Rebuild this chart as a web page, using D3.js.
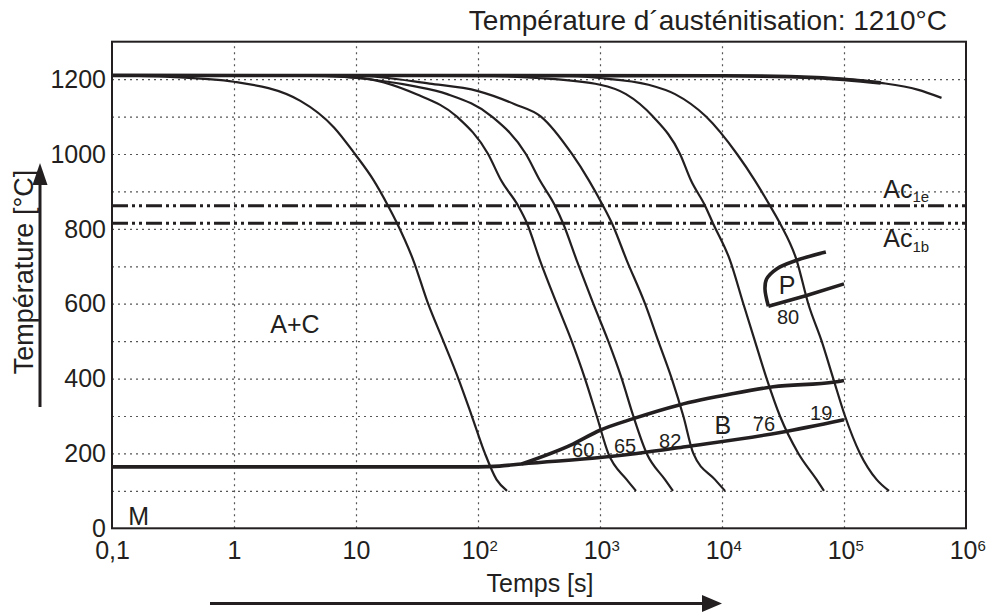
<!DOCTYPE html>
<html lang="fr">
<head>
<meta charset="UTF-8">
<title>Température d´austénitisation: 1210°C</title>
<script src="https://d3js.org/d3.v7.min.js"></script>
<style>
  body { margin: 0; background: #fff; }
  svg { display: block; font-family: "Liberation Sans", Arial, sans-serif; }
  .frame { fill: none; stroke: #231f20; stroke-width: 2; }
  .grid line { stroke: #555; stroke-width: 1.2; stroke-dasharray: 2 4; }
  .grid path { display: none; }
  .cool { fill: none; stroke: #231f20; stroke-width: 2.2; }
  .thick { fill: none; stroke: #231f20; stroke-width: 3.6; }
  .ac { stroke: #231f20; stroke-width: 3; stroke-dasharray: 16 4 3 4 3 4; }
  .axis path, .axis line { display: none; }
  .axis text { font-size: 25px; fill: #231f20; }
  .lbl { fill: #231f20; }
</style>
</head>
<body>
<svg id="chart" width="988" height="612"></svg>
<script>
// cooling curves: [time s, temperature °C]
const curve1 = [[0.1,1210],[0.3,1206],[1,1193],[3.5,1142],[6.6,1071],[9.8,1000],[14,929],[18.3,862],[21.7,815],[29.5,716],[39,600],[52,500],[69,400],[89,300],[114,200],[142,130],[173,100]];
const curve2 = [[0.1,1210],[3,1209],[10,1204],[31,1160],[67,1100],[121,1000],[155,929],[213,862],[252,815],[322,716],[442,600],[586,500],[753,400],[940,300],[1169,200],[1656,130],[1972,100]];
const curve3 = [[0.1,1210],[5,1209],[10,1203],[29,1182],[56,1160],[130,1100],[247,1000],[322,929],[428,862],[498,815],[644,716],[881,600],[1169,500],[1507,400],[1875,300],[2415,200],[3412,130],[3963,100]];
const curve4 = [[0.1,1210],[10,1209],[40,1188],[100,1168],[200,1133],[328,1100],[589,1000],[813,929],[1059,862],[1253,815],[1656,716],[2339,600],[3006,500],[3873,400],[4819,300],[5821,200],[8770,130],[10590,100]];
const curve5 = [[0.1,1210],[100,1209],[300,1203],[1000,1185],[1633,1160],[2716,1100],[4529,1000],[5572,929],[7261,862],[8433,815],[11640,716],[14960,600],[18620,500],[23230,400],[29850,300],[42270,200],[59700,130],[68550,100]];
const curve6 = [[0.1,1210],[500,1209],[982,1203],[2500,1185],[4121,1160],[7396,1100],[13270,1000],[18620,929],[24720,862],[29850,815],[40930,716],[50930,600],[65610,500],[81660,400],[101900,300],[135200,200],[185400,130],[233900,100]];
const curve7 = [[0.1,1210],[10000,1209],[60000,1204],[200000,1190],[400000,1172],[630000,1150]];
const coolingCurves = [curve1, curve2, curve3, curve4, curve5, curve6, curve7];

// Ms + lower bainite boundary, upper bainite boundary
const msLower = [[0.1,164],[100,164],[150,166],[228,172],[1000,189],[2000,200],[5000,218],[30000,256],[100000,290]];
const bainiteUpper = [[228,172],[600,225],[1000,262],[1875,293],[4390,329],[12400,360],[26300,378],[84300,391],[100000,395]];
// pearlite region
const pearliteUpper = [[71000,738],[40930,716],[28050,693],[23200,666],[22500,640],[24000,593]];
const pearliteLower = [[24000,593],[49400,622],[100000,653]];

const acTemps = [862, 815];
const acNames = ["1e", "1b"];

const xTicks = [0.1, 1, 10, 100, 1000, 10000, 100000, 1000000];
const xTickLabels = ["0,1", "1", "10", "10^2", "10^3", "10^4", "10^5", "10^6"];
const yTicks = [0, 200, 400, 600, 800, 1000, 1200];
const yGrid = [100, 200, 300, 400, 500, 600, 700, 800, 900, 1000, 1100, 1200];
const xGrid = [1, 10, 100, 1000, 10000, 100000];

// annotations: [text, time s, temperature °C, size, anchor]
const regionLabels = [["A+C", 3.16, 523, 25, "middle"], ["M", 0.136, 9, 25, "start"], ["P", 29200, 627, 25, "start"], ["B", 8700, 251, 25, "start"]];
const hardness = [["60", 590, 190], ["65", 1300, 201], ["82", 3050, 214], ["76", 17900, 259], ["19", 52700, 289], ["80", 28200, 547]];

const svg = d3.select("#chart");
const pL = 112, pR = 966, pT = 41.7, pB = 528.3;
const x = d3.scaleLog().domain([0.1, 1e6]).range([pL, pR]);
const y = d3.scaleLinear().domain([0, 1300]).range([pB, pT]);

// grid
svg.append("g").attr("class", "grid")
  .attr("transform", `translate(${pL},0)`)
  .call(d3.axisLeft(y).tickValues(yGrid).tickSize(-(pR - pL)).tickFormat(""));
svg.append("g").attr("class", "grid")
  .attr("transform", `translate(0,${pB})`)
  .call(d3.axisBottom(x).tickValues(xGrid).tickSize(-(pB - pT)).tickFormat(""));

// Ac lines
svg.selectAll(".ac").data(acTemps).enter().append("line")
  .attr("class", "ac")
  .attr("x1", pL).attr("x2", pR)
  .attr("y1", d => y(d)).attr("y2", d => y(d));

const line = d3.line().x(d => x(d[0])).y(d => y(d[1]));

// cooling curves
svg.selectAll(".cool").data(coolingCurves).enter().append("path")
  .attr("class", "cool")
  .attr("d", line.curve(d3.curveMonotoneX));

// top austenitisation line (thick start of the curves)
svg.append("path").attr("class", "thick")
  .attr("d", line.curve(d3.curveMonotoneX)(curve7.slice(0, 4)));

svg.append("path").attr("class", "thick").attr("d", line.curve(d3.curveMonotoneX)(msLower));
svg.append("path").attr("class", "thick").attr("d", line.curve(d3.curveMonotoneX)(bainiteUpper));
svg.append("path").attr("class", "thick").attr("d", line.curve(d3.curveCatmullRom.alpha(0.5))(pearliteUpper));
svg.append("path").attr("class", "thick").attr("d", line.curve(d3.curveLinear)(pearliteLower));

// frame
svg.append("rect").attr("class", "frame")
  .attr("x", pL).attr("y", pT).attr("width", pR - pL).attr("height", pB - pT);

// y axis
svg.append("g").attr("class", "axis")
  .attr("transform", `translate(${pL - 4},0)`)
  .call(d3.axisLeft(y).tickValues(yTicks).tickSize(0).tickPadding(2).tickFormat(d3.format("d")))
  .selectAll("text").attr("dy", "0.33em");

// x axis with superscripts
const xAxis = svg.append("g").attr("class", "axis")
  .attr("transform", `translate(0,${pB})`)
  .call(d3.axisBottom(x).tickValues(xTicks).tickSize(0).tickPadding(13).tickFormat(""));
xAxis.selectAll(".tick text").each(function (d, i) {
  const t = d3.select(this).attr("dy", "0.71em");
  const parts = xTickLabels[i].split("^");
  t.append("tspan").text(parts[0]);
  if (parts[1]) {
    t.attr("dx", "0.05em");
    t.append("tspan").attr("dy", "-0.55em").style("font-size", "15px").text(parts[1]);
  }
});

// region labels
svg.selectAll(".region").data(regionLabels).enter().append("text")
  .attr("class", "lbl")
  .attr("x", d => x(d[1])).attr("y", d => y(d[2]))
  .attr("text-anchor", d => d[4])
  .style("font-size", d => d[3] + "px")
  .text(d => d[0]);

svg.selectAll(".hv").data(hardness).enter().append("text")
  .attr("class", "lbl")
  .attr("x", d => x(d[1])).attr("y", d => y(d[2]))
  .style("font-size", "20px")
  .text(d => d[0]);

// Ac labels
const acText = svg.selectAll(".acl").data(acTemps).enter().append("text")
  .attr("class", "lbl")
  .attr("x", x(210000))
  .attr("y", (d, i) => i === 0 ? y(d) - 8 : y(d) + 24)
  .style("font-size", "25px");
acText.append("tspan").text("Ac");
acText.append("tspan").attr("dy", "0.3em").style("font-size", "15px").text((d, i) => acNames[i]);

// title
svg.append("text").attr("class", "lbl")
  .attr("x", 947).attr("y", 30)
  .attr("text-anchor", "end")
  .style("font-size", "28px")
  .text("Température d´austénitisation: 1210°C");

// axis titles with arrows
svg.append("text").attr("class", "lbl")
  .attr("transform", "translate(33,272) rotate(-90)")
  .attr("text-anchor", "middle")
  .style("font-size", "27px")
  .text("Température [°C]");
svg.append("line").attr("x1", 40).attr("x2", 40).attr("y1", 407).attr("y2", 180)
  .attr("stroke", "#231f20").attr("stroke-width", 3);
svg.append("path").attr("d", "M40,163L32.5,185L47.5,185Z").attr("fill", "#231f20");

svg.append("text").attr("class", "lbl")
  .attr("x", 540).attr("y", 592)
  .attr("text-anchor", "middle")
  .style("font-size", "25px")
  .text("Temps [s]");
svg.append("line").attr("x1", 210).attr("x2", 706).attr("y1", 603.5).attr("y2", 603.5)
  .attr("stroke", "#231f20").attr("stroke-width", 3);
svg.append("path").attr("d", "M722,603.5L702,595L702,612Z").attr("fill", "#231f20");
</script>
</body>
</html>
